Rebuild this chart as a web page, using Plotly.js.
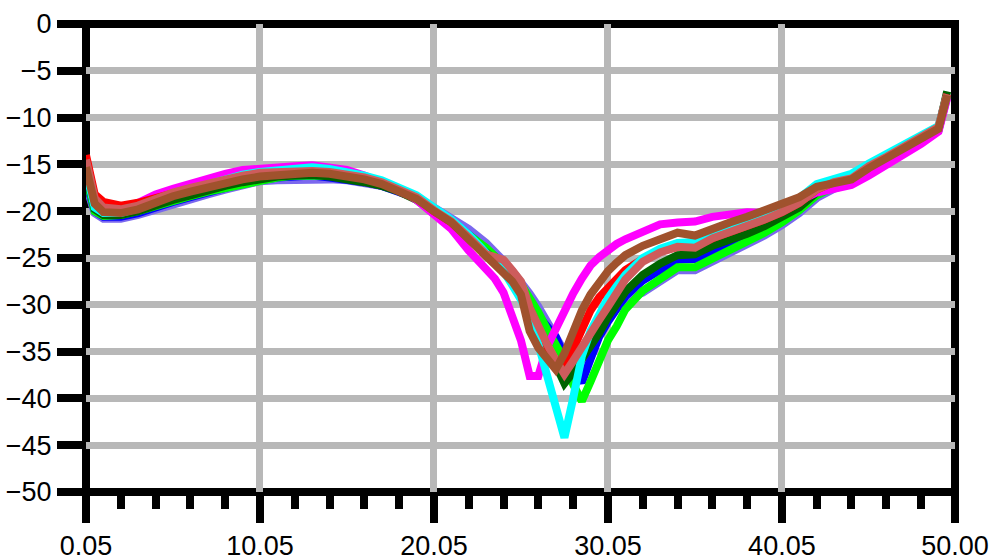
<!DOCTYPE html>
<html>
<head>
<meta charset="utf-8">
<script src="https://cdn.plot.ly/plotly-3.0.1.min.js"></script>
<style>html,body{margin:0;padding:0;background:#fff;}#chart{width:1001px;height:560px;}</style>
</head>
<body>
<div id="chart"></div>
<script>
const freq = [0.05,0.55,1.05,2.05,3.05,4.05,5.05,6.05,7.05,8.05,9.05,10.05,11.05,12.05,13.05,14.05,15.05,16.05,17.05,18.05,19.05,20.05,21.05,22.05,23.05,23.55,24.05,24.55,25.05,25.55,26.05,26.55,27.05,27.55,28.05,28.55,29.05,29.55,30.05,30.55,31.05,32.05,33.05,34.05,35.05,36.05,37.05,38.05,39.05,40.05,41.05,42.05,43.05,44.05,45.05,46.05,47.05,48.05,49.05,49.55];

const purple = [-17.2,-20.2,-20.8,-20.8,-20.4,-19.8,-19.3,-18.7,-18.2,-17.7,-17.2,-16.8,-16.7,-16.6,-16.5,-16.6,-16.7,-16.9,-17.3,-17.8,-18.5,-19.6,-20.8,-21.9,-23.4,-24.3,-25.3,-26.4,-27.5,-28.8,-30.2,-31.8,-33.4,-35.0,-36.0,-36.2,-34.4,-32.8,-31.4,-30.4,-29.4,-28.7,-27.5,-26.3,-26.3,-25.4,-24.6,-23.7,-22.6,-21.5,-20.2,-18.6,-17.6,-17.0,-15.8,-14.7,-13.6,-12.5,-11.4,-7.8];
const blue = [-16.8,-20.0,-20.6,-20.6,-20.2,-19.5,-19.0,-18.5,-17.9,-17.5,-17.0,-16.6,-16.4,-16.3,-16.2,-16.4,-16.6,-16.9,-17.3,-17.9,-18.6,-19.8,-21.0,-22.5,-24.0,-24.8,-25.6,-26.8,-28.0,-29.6,-31.2,-32.3,-33.4,-35.5,-37.0,-38.3,-35.8,-33.4,-31.8,-30.4,-29.1,-27.4,-26.2,-25.2,-25.1,-24.2,-23.5,-22.8,-21.9,-20.9,-19.8,-18.2,-17.3,-16.8,-15.6,-14.5,-13.5,-12.4,-11.3,-7.5];
const lime = [-16.3,-20.0,-20.5,-20.4,-20.0,-19.4,-18.9,-18.4,-17.9,-17.5,-17.0,-16.6,-16.4,-16.2,-16.1,-16.2,-16.4,-16.7,-17.2,-17.8,-18.6,-19.8,-21.1,-22.4,-23.9,-24.8,-25.7,-26.7,-27.8,-29.2,-30.8,-32.6,-34.2,-35.9,-38.5,-40.3,-38.2,-36.0,-33.8,-32.3,-30.5,-28.5,-27.2,-26.0,-26.0,-25.1,-24.3,-23.4,-22.3,-21.2,-19.9,-18.3,-17.4,-16.9,-15.6,-14.5,-13.5,-12.4,-11.3,-7.6];
const darkGreen = [-16.0,-19.8,-20.4,-20.4,-20.0,-19.3,-18.8,-18.3,-17.7,-17.3,-16.9,-16.5,-16.3,-16.2,-16.1,-16.3,-16.5,-16.9,-17.3,-17.9,-18.8,-20.1,-21.4,-22.8,-24.4,-25.2,-26.0,-27.2,-28.6,-30.4,-32.4,-34.3,-36.6,-38.4,-37.2,-35.9,-34.4,-33.0,-31.3,-29.9,-28.6,-26.8,-25.6,-24.7,-24.6,-23.7,-23.1,-22.4,-21.6,-20.6,-19.6,-18.0,-17.2,-16.7,-15.5,-14.4,-13.4,-12.3,-11.2,-7.2];
const magenta = [-15.5,-19.3,-20.0,-19.8,-19.1,-18.2,-17.6,-17.0,-16.4,-16.0,-15.6,-15.4,-15.3,-15.2,-15.1,-15.3,-15.6,-16.2,-16.9,-17.6,-18.8,-20.3,-21.9,-24.2,-26.1,-27.2,-28.7,-31.0,-33.8,-37.6,-37.6,-34.5,-32.5,-30.8,-28.8,-27.2,-25.8,-24.9,-24.1,-23.5,-23.0,-22.2,-21.4,-21.2,-21.1,-20.6,-20.3,-20.1,-20.2,-19.6,-18.9,-18.0,-17.6,-17.2,-16.2,-15.1,-14.0,-12.8,-11.5,-7.9];
const red = [-14.0,-18.2,-19.0,-19.4,-19.1,-18.5,-18.1,-17.6,-17.1,-16.7,-16.3,-16.0,-15.9,-15.8,-15.8,-15.9,-16.1,-16.5,-17.0,-17.7,-18.6,-20.0,-21.2,-22.9,-24.8,-25.4,-26.0,-27.2,-28.5,-30.8,-33.0,-34.6,-36.0,-36.8,-34.6,-32.5,-30.6,-29.2,-28.2,-27.4,-26.3,-25.1,-24.3,-23.8,-23.8,-22.9,-22.3,-21.6,-20.9,-20.1,-19.1,-17.7,-16.9,-16.5,-15.2,-14.2,-13.2,-12.1,-11.0,-7.5];
const cyan = [-15.8,-19.6,-20.2,-20.2,-19.7,-18.9,-18.3,-17.7,-17.1,-16.6,-16.1,-15.8,-15.6,-15.4,-15.3,-15.5,-15.8,-16.2,-16.7,-17.4,-18.3,-19.6,-20.9,-22.5,-24.4,-25.2,-26.4,-27.9,-29.4,-31.0,-34.2,-37.6,-41.0,-44.2,-40.0,-35.5,-32.8,-30.8,-29.3,-28.0,-26.8,-25.0,-24.0,-23.4,-23.3,-22.4,-21.8,-21.1,-20.4,-19.6,-18.6,-17.1,-16.5,-16.0,-14.9,-13.9,-12.9,-11.9,-10.9,-7.6];
const rosy = [-14.5,-18.6,-19.6,-19.8,-19.4,-18.6,-18.0,-17.5,-17.0,-16.6,-16.2,-15.9,-15.8,-15.7,-15.7,-15.8,-16.0,-16.4,-16.9,-17.6,-18.5,-19.9,-21.1,-22.8,-24.6,-24.9,-25.2,-26.3,-27.5,-30.3,-32.5,-34.2,-35.9,-37.4,-36.0,-34.4,-32.9,-31.6,-30.2,-28.7,-27.3,-25.4,-24.4,-23.8,-23.9,-22.9,-22.3,-21.6,-20.9,-20.1,-19.1,-17.7,-16.9,-16.5,-15.2,-14.2,-13.2,-12.1,-11.0,-7.5];
const brown = [-15.3,-19.2,-20.1,-20.2,-19.8,-19.0,-18.4,-17.9,-17.4,-17.0,-16.6,-16.3,-16.1,-16.0,-15.9,-16.0,-16.2,-16.6,-17.1,-17.8,-18.7,-20.0,-21.2,-23.0,-24.9,-25.8,-26.5,-27.5,-28.9,-32.8,-34.6,-35.7,-36.9,-35.2,-32.8,-30.6,-28.9,-27.6,-26.4,-25.5,-24.7,-23.7,-23.0,-22.3,-22.6,-21.8,-21.2,-20.6,-20.0,-19.2,-18.5,-17.4,-17.0,-16.6,-15.4,-14.4,-13.4,-12.3,-11.2,-7.6];

const xTickVals = [0.05,10.05,20.05,30.05,40.05,50];
const xTickText = ['0.05','10.05','20.05','30.05','40.05','50.00'];
const yTickVals = [0,-5,-10,-15,-20,-25,-30,-35,-40,-45,-50];

const series = [
  {y: purple, c: '#7b68ee'},
  {y: blue, c: '#0000ff'},
  {y: lime, c: '#00ff00'},
  {y: darkGreen, c: '#006400'},
  {y: magenta, c: '#ff00ff'},
  {y: red, c: '#ff0000'},
  {y: cyan, c: '#00ffff'},
  {y: rosy, c: '#cd5c5c'},
  {y: brown, c: '#a0522d'}
];

const traces = series.map(s => ({
  x: freq, y: s.y, type: 'scatter', mode: 'lines',
  line: {color: s.c, width: 8, shape: 'linear'},
  hoverinfo: 'skip'
}));

const font = {family: '"Liberation Sans", Arial, sans-serif', size: 27, color: '#000'};

const layout = {
  width: 1001, height: 560,
  margin: {l: 86, r: 46, t: 24, b: 68},
  paper_bgcolor: '#fff', plot_bgcolor: '#fff',
  showlegend: false,
  font: font,
  xaxis: {
    range: [0.05, 50], tickmode: 'array', tickvals: xTickVals, ticktext: xTickText,
    ticks: 'outside', ticklen: 30, tickwidth: 8, tickcolor: '#000',
    showgrid: true, gridcolor: '#b8b8b8', gridwidth: 7,
    zeroline: false, showline: false, tickfont: font,
    minor: {tickmode: 'linear', tick0: 0.05, dtick: 2, ticks: 'outside', ticklen: 16, tickwidth: 8, tickcolor: '#000', showgrid: false}
  },
  yaxis: {
    range: [-50, 0], tickmode: 'array', tickvals: yTickVals,
    ticks: 'outside', ticklen: 28, tickwidth: 8, tickcolor: '#000',
    showgrid: true, gridcolor: '#b8b8b8', gridwidth: 7,
    zeroline: false, showline: false, tickfont: font
  },
  shapes: [{
    type: 'rect', xref: 'paper', yref: 'paper', x0: 0, x1: 1, y0: 0, y1: 1,
    line: {color: '#000', width: 8}, fillcolor: 'rgba(0,0,0,0)', layer: 'between'
  }]
};

Plotly.newPlot('chart', traces, layout, {displayModeBar: false, staticPlot: true});
</script>
</body>
</html>
